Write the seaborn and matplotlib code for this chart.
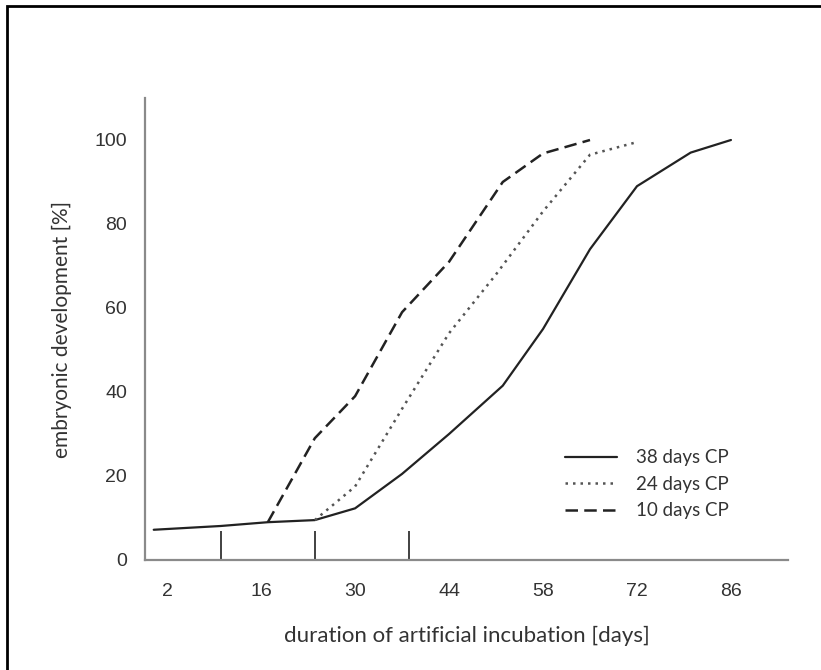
import numpy as np
import pandas as pd
import seaborn as sns
import matplotlib.pyplot as plt
from matplotlib.patches import Rectangle

# data
days_38 = [0, 10, 17, 24, 30, 37, 44, 52, 58, 65, 72, 80, 86]
dev_38 = [7.2, 8.1, 9.0, 9.5, 12.3, 20.5, 30.0, 41.5, 55.0, 74.0, 89.0, 97.0, 100.0]
days_24 = [24, 30, 37, 44, 51, 58, 65, 72]
dev_24 = [9.5, 17.5, 36.0, 54.0, 68.0, 83.0, 96.5, 99.5]
days_10 = [17, 24, 30, 37, 44, 52, 58, 65]
dev_10 = [9.0, 29.0, 39.0, 59.0, 71.0, 90.0, 96.8, 100.0]
labels = ["38 days CP", "24 days CP", "10 days CP"]
cp_days = [10, 24, 38]
cp_height = [7, 7, 7]
xticks = [2, 16, 30, 44, 58, 72, 86]
yticks = [0, 20, 40, 60, 80, 100]

df = pd.concat([
    pd.DataFrame({"day": days_38, "dev": dev_38, "series": labels[0]}),
    pd.DataFrame({"day": days_24, "dev": dev_24, "series": labels[1]}),
    pd.DataFrame({"day": days_10, "dev": dev_10, "series": labels[2]}),
])

sns.set_style("white")
plt.rcParams["font.family"] = ["Lato", "DejaVu Sans"]

fig = plt.figure(figsize=(8.21, 6.70), dpi=100)
ax = fig.add_axes([145/821, 1 - 560/670, (788-145)/821, (560-98)/670])

styles = {labels[0]: dict(ls="-", lw=1.6, color="#222222"),
          labels[1]: dict(ls=(0, (1, 2)), lw=1.8, color="#555555"),
          labels[2]: dict(ls=(0, (5, 2.5)), lw=1.8, color="#222222")}
for lab in labels:
    sub = df[df.series == lab]
    sns.lineplot(data=sub, x="day", y="dev", ax=ax, label=lab,
                 linestyle=styles[lab]["ls"], lw=styles[lab]["lw"],
                 color=styles[lab]["color"], estimator=None, sort=False)

ax.vlines(cp_days, 0, cp_height, color="#333333", lw=1.3)

ax.set_xlim(-1.3, 94.5)
ax.set_ylim(0, 110)
ax.set_xticks(xticks)
ax.set_yticks(yticks)
for s in ["top", "right"]:
    ax.spines[s].set_visible(False)
for s in ["left", "bottom"]:
    ax.spines[s].set_color("#8a8a8a")
    ax.spines[s].set_linewidth(1.6)
ax.tick_params(axis="both", colors="#8a8a8a", length=5, width=1.2,
               labelcolor="#333333", labelsize=14)
ax.tick_params(axis="x", direction="inout", length=7, pad=13)
ax.tick_params(axis="y", pad=8)
for t in ax.get_xticklabels() + ax.get_yticklabels():
    t.set_fontfamily(["Liberation Sans", "DejaVu Sans"])
ax.set_xlabel("duration of artificial incubation [days]", fontsize=16,
              color="#333333", labelpad=19)
ax.set_ylabel("embryonic development [%]", fontsize=15,
              color="#333333", labelpad=16)

leg = ax.legend(loc="upper left", bbox_to_anchor=((557-145)/643, 1 - (442-98)/462),
                frameon=False, fontsize=13.5, handlelength=2.8, handletextpad=1.0,
                labelspacing=0.5, borderaxespad=0)
for t in leg.get_texts():
    t.set_color("#333333")

fig.patches.append(Rectangle((7/821, -0.1), 1.2, 1 - 6/670 + 0.1,
                             transform=fig.transFigure, fill=False,
                             edgecolor="black", lw=2))

fig.savefig("out.png", dpi=100)
